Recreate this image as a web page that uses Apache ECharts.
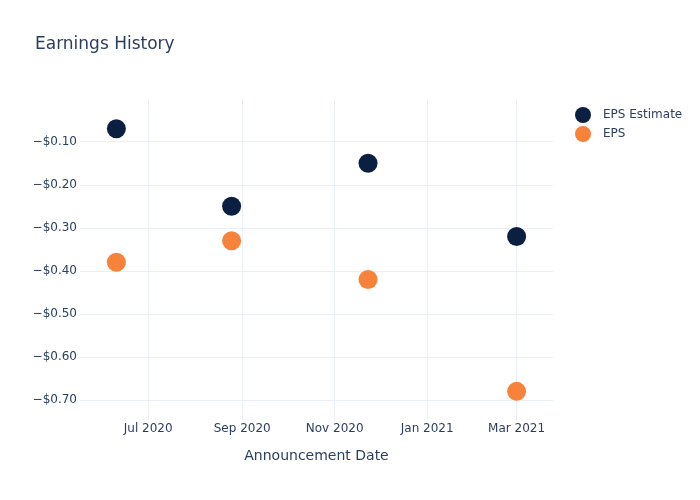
<!DOCTYPE html>
<html><head><meta charset="utf-8">
<script src="https://cdn.jsdelivr.net/npm/echarts@6/dist/echarts.min.js"></script>
<style>html,body{margin:0;padding:0;background:#fff}#c{width:700px;height:500px}</style>
</head><body><div id="c"></div>
<script>
const dates = ['2020-06-10', '2020-08-25', '2020-11-23', '2021-03-01'];
const epsEstimate = [-0.07, -0.25, -0.15, -0.32];
const eps = [-0.38, -0.33, -0.42, -0.68];
const monthNames = ['Jan','Feb','Mar','Apr','May','Jun','Jul','Aug','Sep','Oct','Nov','Dec'];

function ts(s){ const p = s.split('-').map(Number); return new Date(p[0], p[1]-1, p[2]).getTime(); }
const FONT = '"DejaVu Sans", verdana, arial, sans-serif';
const TXT = '#2a3f5f';
const GRID = '#ebf0f8';

const chart = echarts.init(document.getElementById('c'), null, {renderer:'canvas'});
chart.setOption({
  animation: false,
  backgroundColor: '#fff',
  textStyle: {fontFamily: FONT},
  title: {text: 'Earnings History', left: 30, top: 31, textStyle: {fontFamily: FONT, fontSize: 17, fontWeight: 'normal', color: TXT}},
  legend: {
    orient: 'vertical', left: 570, top: 102, itemWidth: 30, itemHeight: 16, itemGap: 3,
    icon: 'circle', textStyle: {fontFamily: FONT, fontSize: 12, color: TXT},
    data: ['EPS Estimate', 'EPS']
  },
  grid: {left: 80, right: 147, top: 100, bottom: 80},
  xAxis: {
    type: 'time', min: ts('2020-05-17'), max: ts('2021-03-25'), splitNumber: 4,
    name: 'Announcement Date', nameLocation: 'middle', nameGap: 29,
    nameTextStyle: {fontFamily: FONT, fontSize: 14, color: TXT},
    axisLine: {show: false}, axisTick: {show: false},
    axisLabel: {fontFamily: FONT, fontSize: 12, color: TXT, margin: 3, showMinLabel: false, showMaxLabel: false,
      formatter: function(v){ const d = new Date(v); return monthNames[d.getMonth()] + ' ' + d.getFullYear(); }},
    splitLine: {show: true, showMinLine: false, showMaxLine: false, lineStyle: {color: GRID, width: 1}}
  },
  yAxis: {
    type: 'value', min: -0.7465, max: -0.0031, splitNumber: 7,
    axisLine: {show: false}, axisTick: {show: false},
    axisLabel: {fontFamily: FONT, fontSize: 12, color: TXT, margin: 3, showMinLabel: false, showMaxLabel: false,
      formatter: function(v){ const r = Math.round(v*100)/100; return (r < 0 ? '\u2212' : '') + '$' + Math.abs(r).toFixed(2); }},
    splitLine: {show: true, showMinLine: false, showMaxLine: false, lineStyle: {color: GRID, width: 1}}
  },
  series: [
    {name: 'EPS Estimate', type: 'scatter', symbolSize: 19, itemStyle: {color: '#0b1f41', opacity: 1},
     data: dates.map((d,i) => [ts(d), epsEstimate[i]])},
    {name: 'EPS', type: 'scatter', symbolSize: 19, itemStyle: {color: '#f7833b', opacity: 1},
     data: dates.map((d,i) => [ts(d), eps[i]])}
  ]
});
</script></body></html>
